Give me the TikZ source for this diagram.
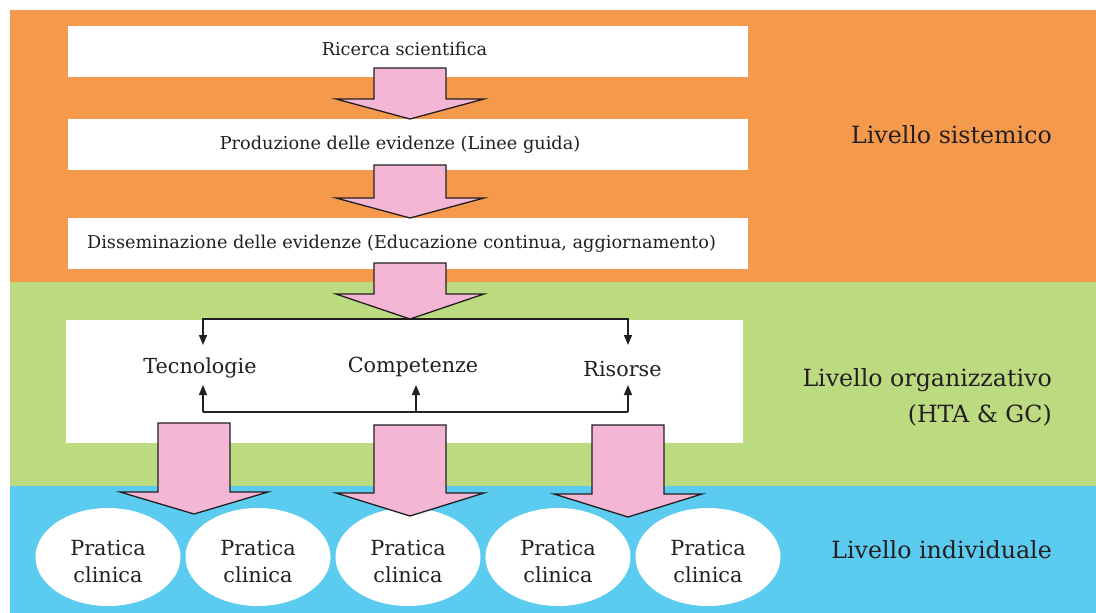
\documentclass[tikz,border=0pt]{standalone}
\usepackage{fontspec}
\setmainfont{DejaVu Serif}
\usetikzlibrary{shapes.geometric,arrows.meta}
\definecolor{orangebg}{HTML}{F59A4C}
\definecolor{greenbg}{HTML}{BCDA80}
\definecolor{bluebg}{HTML}{5BCBF0}
\definecolor{pinkarr}{HTML}{F4B6D5}
\definecolor{ink}{HTML}{231F20}
\newcommand\bigarrow[4]{%
  \filldraw[bigarr] (#1-36,#2) -- (#1+36,#2) -- (#1+36,#3) -- (#1+74,#3) -- (#1,#4) -- (#1-74,#3) -- (#1-36,#3) -- cycle;}
\newcommand\boxtext[3]{\raisebox{#2}{\makebox[0pt]{#3\hspace*{#1}}}}
\newcommand\pclin{\raisebox{-11.3pt}[0pt][0pt]{\begin{tabular}{@{}c@{}}Pratica\\clinica\end{tabular}}}
\begin{document}
\begin{tikzpicture}[x=1pt,y=-1pt,
  whitebox/.style={fill=white,draw=none,inner sep=0pt,text=ink,font=\fontsize{17.7}{21}\selectfont},
  pratica/.style={ellipse,fill=white,draw=none,minimum width=145pt,minimum height=98pt,inner sep=0pt,text=ink,font=\fontsize{20.8}{27}\selectfont},
  midtext/.style={text=ink,font=\fontsize{20.7}{24}\selectfont,inner sep=0pt},
  level/.style={anchor=east,align=right,text=ink,font=\fontsize{23.7}{36}\selectfont,inner sep=0pt},
  bigarr/.style={fill=pinkarr,draw=ink,line width=1.3pt,line join=miter},
  conn/.style={draw=ink,line width=1.3pt,-{Triangle[length=10pt,width=8pt]}},
  plain/.style={draw=ink,line width=1.3pt}]
\useasboundingbox (0,0) rectangle (1096,613);
\fill[white] (0,0) rectangle (1096,613);
\fill[orangebg] (10,10) rectangle (1096,282);
\fill[greenbg] (10,282) rectangle (1096,486);
\fill[bluebg] (10,486) rectangle (1096,613);
% top boxes
\node[whitebox,minimum width=680pt,minimum height=51pt] (b1) at (408,51.5) {\boxtext{7pt}{5pt}{Ricerca scientifica}};
\node[whitebox,minimum width=680pt,minimum height=51pt] (b2) at (408,144.5) {\boxtext{16pt}{1.5pt}{Produzione delle evidenze (Linee guida)}};
\node[whitebox,minimum width=680pt,minimum height=51pt] (b3) at (408,243.5) {\boxtext{13pt}{0pt}{Disseminazione delle evidenze (Educazione continua, aggiornamento)}};
% middle box
\node[fill=white,minimum width=677pt,minimum height=123pt,inner sep=0pt] (mid) at (404.5,381.5) {};
\node[midtext] (tec) at (200,368) {Tecnologie};
\node[midtext] (comp) at (413,367) {Competenze};
\node[midtext] (ris) at (622.5,369) {Risorse};
% ellipses
\node[pratica] (p1) at (108,557) {\pclin};
\node[pratica] (p2) at (258,557) {\pclin};
\node[pratica] (p3) at (408,557) {\pclin};
\node[pratica] (p4) at (558,557) {\pclin};
\node[pratica] (p5) at (708,557) {\pclin};
% middle connectors
\coordinate (t3) at (410,319);
\coordinate (tecin) at (203,345);
\coordinate (risin) at (628,345);
\coordinate (bl) at (203,412);
\coordinate (bc) at (416,412);
\coordinate (br) at (628,412);
\coordinate (tecout) at (203,385);
\coordinate (compout) at (416,385);
\coordinate (risout) at (628,385);
\draw[conn] (t3) -| (tecin);
\draw[conn] (t3) -| (risin);
\draw[plain] (bl) -- (br);
\draw[conn] (bl) -- (tecout);
\draw[conn] (bc) -- (compout);
\draw[conn] (br) -- (risout);
% big arrows
\bigarrow{410}{68}{99}{119}
\bigarrow{410}{165}{198}{218}
\bigarrow{410}{263}{294}{319}
\bigarrow{194}{423}{492}{514}
\bigarrow{410}{425}{493}{516}
\bigarrow{628}{425}{494}{517}
% level labels
\node[level] (l1) at (1052,135) {Livello sistemico};
\node[level] (l2) at (1052,397) {Livello organizzativo\\(HTA \& GC)};
\node[level] (l3) at (1052,550) {Livello individuale};
\end{tikzpicture}
\end{document}
